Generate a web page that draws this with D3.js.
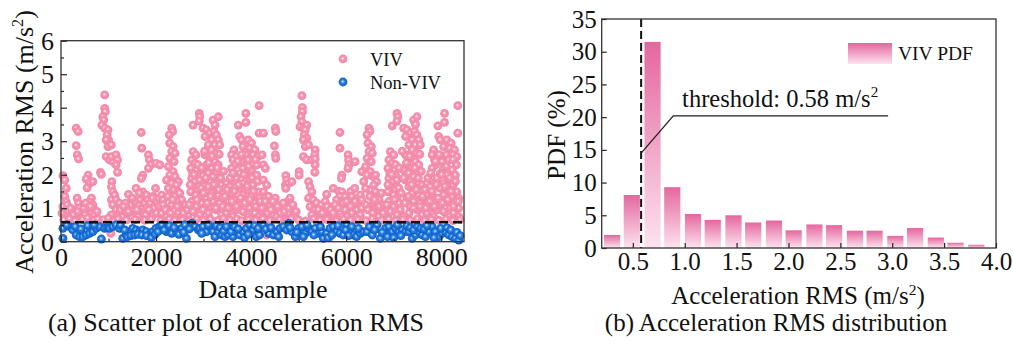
<!DOCTYPE html>
<html>
<head>
<meta charset="utf-8">
<script src="https://cdn.jsdelivr.net/npm/d3@7"></script>
<style>
  body { margin: 0; background: #fff; }
  svg { font-family: "Liberation Serif", "Times New Roman", serif; }
</style>
</head>
<body>
<svg id="chart" width="1013" height="345"></svg>
<script>
// ---- data ----
// (a) scatter: [data sample, acceleration RMS]
const vivPoints = [
  [40,1.97],[80,1.84],[110,1.59],[80,1.35],[110,1.2],[40,1.05],[150,0.9],[80,0.75],[220,0.8],[250,0.95],
  [320,3.39],[360,3.29],[320,2.87],[340,2.59],[370,2.47],[340,1.3],[370,1.15],[390,1.0],[430,0.85],
  [570,1.99],[530,1.87],[600,1.74],[550,1.61],[670,1.79],[640,1.3],[600,1.18],[670,1.1],[570,1.0],[640,0.85],[500,0.8],[710,0.95],[290,0.7],[430,0.7],
  [830,2.07],[850,2.01],
  [920,4.38],[920,3.98],[930,3.88],[880,3.73],[900,3.63],[860,3.48],[920,3.39],[990,3.34],[970,3.19],[1000,3.04],[950,3.04],[990,2.84],[1060,2.89],[950,2.54],[1020,2.44],[1090,2.39],
  [1060,2.54],[1160,2.59],[1190,2.44],[1160,2.29],[1190,2.07],[1070,1.79],[1060,1.64],[1090,1.49],[1130,1.39],[1060,1.25],[1160,1.25],[1090,1.1],[1230,1.15],[1160,0.95],[1060,0.8],[1230,0.85],[1300,0.75],[1420,1.41],[1580,1.59],
  [1690,3.26],[1700,2.79],[1720,1.99],[1690,1.89],[1720,1.49],[1690,1.35],[1660,1.25],[1620,1.1],[1760,1.15],[1510,0.95],[1580,0.85],[1690,0.7],[1800,1.39],[1830,1.25],
  [1840,2.59],[1860,2.44],[1890,2.29],[1840,2.19],[2000,2.34],[1990,1.59],[1940,1.35],[2000,1.2],[1900,1.05],[2040,0.95],[1940,0.8],[1830,0.7],
  [1350,0.9],[1400,1.0],[1450,0.8],[1480,1.1],[1550,1.2],[1620,0.75],[1750,0.9],[1800,1.0],[1880,1.15],[1950,1.0],[2060,1.3],[1480,0.7],[1360,1.15],
  [20,0.85],[130,1.1],[200,1.0],[260,0.8],[350,0.9],[480,1.0],[520,1.15],[620,1.05],[700,0.8],[760,0.9],
  [1250,0.95],[1320,1.05],[1420,0.9],[1500,1.3],[1600,0.95],[1650,1.45],[1780,0.8],[1850,0.95],[1920,1.3],[2010,0.85],[2080,1.05],
  // 2000 - 4200
  [2120,1.39],[2150,1.25],[2190,1.0],[2120,0.85],[2220,0.75],[2080,2.29],
  [2330,3.39],[2350,3.29],[2280,3.19],[2290,2.94],[2360,2.84],[2330,2.69],[2400,2.64],[2290,2.49],[2380,2.39],[2260,2.24],[2360,2.09],[2290,1.99],[2400,1.94],[2220,1.84],[2330,1.74],[2470,1.79],[2430,1.69],[2360,1.54],[2470,1.49],[2260,1.59],[2400,1.35],[2540,1.25],[2430,1.2],[2330,1.1],[2500,1.0],[2470,0.85],[2610,0.9],[2540,0.75],[2680,0.8],
  [2150,1.1],[2200,0.95],[2250,1.35],[2310,0.85],[2350,1.25],[2450,1.05],[2500,1.45],[2580,0.85],[2620,1.1],[2660,0.95],
  [2780,3.48],[2910,3.83],[2920,3.73],[2910,3.6],[2780,2.69],[2840,2.59],[2750,2.44],[2820,2.34],[2730,2.19],[2850,2.14],[2770,2.04],[2870,1.99],[2750,1.89],[2820,1.79],[2920,1.84],[2780,1.64],[2890,1.54],[2730,1.49],[2840,1.39],[2920,1.3],[2750,1.2],[2960,1.15],[2850,1.05],[2990,0.95],[2780,0.9],[2920,0.8],
  [2990,3.39],[3060,3.34],[3130,3.24],[3030,3.14],[3200,3.63],[3240,3.48],[3310,3.73],[3220,3.29],[3270,3.19],[3170,3.04],[3310,3.04],[3100,2.89],[3240,2.89],[3340,2.89],[3170,2.74],[3270,2.64],[3030,2.59],[3130,2.49],[3240,2.39],[3060,2.29],[3310,2.29],[3170,2.19],[2990,2.14],[3270,2.09],[3100,2.04],[3200,1.94],[3030,1.84],[3130,1.79],[3310,1.74],[3100,1.64],[3240,1.59],[3170,1.44],[3310,1.39],[3060,1.3],[3200,1.2],[3340,1.15],[3130,1.05],[3270,0.95],[3100,0.85],[3380,0.8],
  [3330,2.61],[3380,1.69],[3480,1.74],[3450,1.59],[3550,1.64],[3660,1.79],[3480,1.39],[3590,1.44],[3410,1.3],[3520,1.2],[3660,1.25],[3450,1.05],[3590,1.0],[3690,0.95],[3480,0.85],[3620,0.75],[3730,3.48],
  [3890,3.83],[3890,3.56],[4170,4.06],[4170,3.24],[3760,3.14],[3800,3.04],[3940,3.04],[4010,2.94],[3830,2.84],[3970,2.79],[4080,2.74],[3640,2.74],[3590,2.59],[3690,2.54],[3900,2.59],[4040,2.59],[4150,2.54],[3620,2.44],[3800,2.39],[3940,2.44],[4120,2.29],[3660,2.29],[3830,2.19],[4010,2.14],[3590,2.19],[3760,2.04],[3900,1.99],[4120,1.99],[3690,1.89],[3970,1.84],[3830,1.74],[4040,1.69],[3760,1.59],[3940,1.54],[4150,1.49],[3830,1.39],[4010,1.35],[4180,1.3],[3900,1.2],[4080,1.15],[3760,1.1],[3970,1.0],[4180,1.0],[3830,0.9],[4080,0.85],[3940,0.75],[4180,0.75],
  [2700,1.1],[2720,1.7],[2800,2.0],[2860,1.25],[2880,2.3],[2950,1.6],[2960,2.2],[3000,1.45],[3020,2.7],[3050,1.9],[3080,1.15],[3110,2.35],[3150,1.35],[3180,2.55],[3220,1.7],[3260,1.0],[3290,2.2],[3320,1.55],[3360,1.9],[3400,1.05],[3420,2.1],[3450,1.35],
  [3500,1.55],[3520,1.0],[3560,1.9],[3600,1.2],[3620,2.05],[3650,1.5],[3700,1.05],[3720,2.4],[3740,1.7],[3780,1.3],[3800,2.6],[3850,2.0],[3870,1.15],[3920,1.65],[3950,2.25],[3980,1.25],[4020,1.9],[4050,1.5],[4090,2.45],[4100,1.05],[4140,1.8],[4200,1.2],
  // 4200 - 6400
  [4260,3.24],[4230,2.59],[4260,2.29],[4300,2.19],[4260,1.84],[4330,1.69],[4260,1.49],[4370,1.35],[4300,1.2],[4400,1.05],[4330,0.9],[4440,0.8],[4260,0.75],
  [4510,3.39],[4520,3.29],[4490,2.86],[4510,2.59],[4520,2.49],[4510,1.3],[4520,1.15],[4470,1.0],[4580,0.9],[4540,0.75],
  [4730,1.97],[4750,1.84],[4720,1.69],[4790,1.74],[4860,1.79],[4730,1.59],[4820,1.3],[4750,1.18],[4840,1.12],[4720,1.0],[4790,0.85],[4890,0.95],[4650,0.75],[4930,0.75],
  [4230,1.0],[4350,0.85],[4420,0.95],[4460,1.2],[4560,1.05],[4620,0.85],[4680,1.15],[4700,0.9],[4800,1.0],[4880,1.1],[4950,0.9],
  [5010,2.09],[5010,1.99],[5070,4.36],[5080,4.0],[5080,3.88],[5050,3.73],[5070,3.58],[5030,3.43],[5100,3.39],[5170,3.48],[5140,3.34],[5120,3.19],[5170,3.09],[5100,3.04],[5140,2.84],[5210,2.89],[5100,2.54],[5170,2.44],[5280,2.44],
  [5350,2.74],[5340,2.59],[5350,2.47],[5350,2.29],[5340,2.07],[5210,1.79],[5240,1.64],[5280,1.49],[5210,1.3],[5310,1.25],[5380,1.15],[5240,1.05],[5350,0.95],[5450,0.85],[5280,0.8],
  [5590,1.41],[5730,1.59],[5520,1.0],[5630,0.9],[5700,0.75],[5560,0.7],[5480,1.1],[5560,1.2],[5650,1.05],
  [5420,0.95],[5500,0.85],[5600,1.05],[5680,0.95],[5760,0.8],[5850,1.5],[5950,1.05],[6050,0.95],[6100,1.5],[6150,1.05],[6250,1.15],[6280,0.95],
  [5870,3.26],[5870,2.79],[5910,1.99],[5900,1.89],[5910,1.49],[5870,1.35],[5800,1.25],[5770,1.1],[5940,1.15],[5840,1.0],[5730,0.85],[5980,0.95],[5910,0.75],[5980,1.35],[6010,1.2],
  [6040,2.59],[6050,2.44],[6060,2.29],[6040,2.19],[6190,2.39],[6180,1.59],[6120,1.35],[6190,1.2],[6090,1.05],[6230,0.95],[6120,0.85],[6010,0.75],[6330,2.09],[6370,1.79],[6300,1.39],[6330,1.25],[6330,1.0],[6300,0.8],
  // 6400 - 8500
  [6480,3.39],[6500,3.29],[6440,3.19],[6460,2.94],[6530,2.84],[6480,2.69],[6550,2.64],[6440,2.49],[6530,2.39],[6410,2.24],[6510,2.09],[6440,1.99],[6570,1.94],[6620,1.99],[6640,1.79],[6580,1.69],[6510,1.54],[6620,1.49],[6410,1.59],[6550,1.35],[6690,1.25],[6580,1.15],[6480,1.05],[6650,1.0],[6620,0.85],[6760,0.9],[6690,0.75],[6830,0.8],
  [6420,1.1],[6460,0.95],[6500,1.35],[6560,0.85],[6600,1.25],[6700,1.05],[6740,1.45],[6780,0.85],[6800,1.1],
  [6970,3.46],[7070,3.83],[7090,3.73],[7070,3.6],[6930,2.69],[7000,2.59],[6900,2.44],[6970,2.34],[6880,2.19],[7020,2.14],[6920,2.04],[7040,1.99],[6900,1.89],[6990,1.79],[7070,1.84],[6930,1.64],[7040,1.54],[6880,1.49],[7000,1.39],[7070,1.3],[6900,1.2],[7110,1.15],[7000,1.05],[7140,0.95],[6930,0.9],[7070,0.8],
  [7210,3.39],[7280,3.34],[7350,3.24],[7250,3.14],[7420,3.63],[7460,3.5],[7490,3.73],[7440,3.29],[7490,3.19],[7390,3.04],[7530,3.04],[7320,2.89],[7460,2.89],[7560,2.89],[7390,2.74],[7490,2.64],[7250,2.59],[7350,2.49],[7460,2.39],[7280,2.29],[7530,2.29],[7390,2.19],[7210,2.14],[7490,2.09],[7320,2.04],[7420,1.94],[7250,1.84],[7350,1.79],[7530,1.74],[7320,1.64],[7460,1.59],[7390,1.44],[7530,1.39],[7280,1.3],[7420,1.2],[7560,1.15],[7350,1.05],[7490,0.95],[7320,0.85],[7600,0.8],[7210,0.75],
  [7550,2.61],[7600,1.69],[7700,1.74],[7670,1.59],[7770,1.64],[7880,1.79],[7700,1.39],[7810,1.44],[7630,1.3],[7740,1.2],[7880,1.25],[7670,1.05],[7810,1.0],[7910,0.95],[7700,0.85],[7840,0.75],
  [7930,3.46],[8070,3.83],[8070,3.56],[8350,4.06],[8350,3.24],[7950,3.14],[7980,3.04],[8120,3.04],[8210,2.94],[8050,2.84],[8180,2.79],[8280,2.74],[7840,2.74],[7810,2.59],[7910,2.54],[8110,2.59],[8250,2.59],[8330,2.54],[7860,2.44],[8020,2.39],[8160,2.44],[8320,2.29],[7880,2.29],[8050,2.19],[8230,2.14],[7810,2.19],[7980,2.04],[8120,1.99],[8300,1.99],[7910,1.89],[8180,1.84],[8050,1.74],[8250,1.69],[7980,1.59],[8160,1.54],[8330,1.49],[8050,1.39],[8230,1.35],[8370,1.3],[8120,1.2],[8300,1.15],[7980,1.1],[8190,1.0],[8370,1.0],[8050,0.9],[8260,0.85],[8160,0.75],[8370,0.75],
  [6860,1.1],[6880,1.7],[6960,2.0],[7020,1.25],[7040,2.3],[7110,1.6],[7120,2.2],[7160,1.45],[7180,2.7],[7210,1.9],[7240,1.15],[7270,2.35],[7310,1.35],[7340,2.55],[7380,1.7],[7420,1.0],[7450,2.2],[7480,1.55],[7520,1.9],[7560,1.05],[7580,2.1],[7610,1.35],
  [7660,1.55],[7680,1.0],[7720,1.9],[7760,1.2],[7780,2.05],[7810,1.5],[7860,1.05],[7880,2.4],[7900,1.7],[7940,1.3],[7960,2.6],[8010,2.0],[8030,1.15],[8080,1.65],[8110,2.25],[8140,1.25],[8180,1.9],[8210,1.5],[8250,2.45],[8260,1.05],[8300,1.8],[8360,1.2],
  // dense band just above the threshold
  [60,0.65],[180,0.68],[300,0.62],[460,0.66],[560,0.7],[700,0.64],[780,0.68],[900,0.66],[1000,0.7],[1120,0.63],[1200,0.68],[1380,0.65],[1560,0.66],[1760,0.64],[1900,0.68],[2100,0.63],
  [2280,0.67],[2400,0.64],[2560,0.66],[2700,0.63],[2860,0.68],[3000,0.64],[3150,0.67],[3300,0.63],[3420,0.69],[3560,0.64],[3700,0.68],[3800,0.63],[3950,0.66],[4100,0.64],[4250,0.68],
  [4400,0.63],[4600,0.66],[4750,0.63],[4850,0.68],[5000,0.65],[5150,0.62],[5320,0.68],[5450,0.64],[5600,0.66],[5800,0.63],[5950,0.67],[6100,0.64],[6250,0.66],[6420,0.63],
  [6550,0.68],[6750,0.64],[6900,0.67],[7050,0.63],[7200,0.66],[7350,0.64],[7500,0.68],[7650,0.63],[7800,0.66],[7950,0.64],[8100,0.67],[8250,0.63],[8400,0.66],
  [1050,0.25],[2650,0.35],[4330,0.2],[5650,0.12],[6900,0.3],[8250,0.15]
];
const nonVivPoints = [
  [40,0.40],[40,0.10],[180,0.45],[120,0.5],[250,0.35],[320,0.2],[390,0.15],[460,0.15],[530,0.2],[600,0.25],[670,0.3],[740,0.4],[810,0.45],[850,0.08],[920,0.4],[980,0.42],[1020,0.4],[1090,0.45],[1160,0.5],[1230,0.4],
  [1300,0.1],[1370,0.2],[1440,0.3],[1510,0.4],[1580,0.35],[1650,0.3],[1720,0.35],[1790,0.3],[1860,0.2],[1930,0.3],[2000,0.4],[2070,0.45],
  [300,0.45],[420,0.38],[560,0.48],[700,0.5],[1250,0.5],[1340,0.35],[1400,0.15],[1470,0.18],[1550,0.2],[1620,0.22],[1700,0.2],[1800,0.18],[1900,0.12],[1980,0.22],[2040,0.3],
  [2120,0.5],[2220,0.3],[2330,0.25],[2430,0.3],[2540,0.4],[2610,0.5],[2640,0.1],[2750,0.55],[2820,0.45],[2890,0.35],[2920,0.4],[2990,0.45],[3060,0.3],[3130,0.45],[3200,0.3],[3240,0.15],[3310,0.3],[3380,0.2],
  [3450,0.15],[3520,0.2],[3550,0.4],[3620,0.15],[3690,0.3],[3760,0.2],[3830,0.3],[3900,0.4],[3970,0.5],[4040,0.35],[4110,0.15],[4180,0.2],
  [2170,0.35],[2280,0.48],[2380,0.42],[2480,0.22],[2580,0.28],[2700,0.38],[2960,0.25],[3100,0.5],[3270,0.48],[3350,0.42],[3420,0.32],[3480,0.45],[3580,0.3],[3650,0.45],[3730,0.38],[3860,0.12],[3940,0.22],[4080,0.48],[4150,0.4],
  [4260,0.5],[4370,0.25],[4470,0.2],[4540,0.3],[4610,0.4],[4680,0.45],[4750,0.35],[4790,0.55],[4860,0.3],[4930,0.15],[5000,0.4],[5070,0.45],[5140,0.25],[5210,0.4],[5280,0.3],[5350,0.4],[5420,0.25],[5490,0.3],
  [5520,0.1],[5590,0.25],[5660,0.4],[5730,0.45],[5800,0.3],[5870,0.25],[5940,0.2],[6010,0.5],[6080,0.3],[6150,0.2],[6220,0.15],[6300,0.25],[6360,0.3],
  [4310,0.38],[4420,0.42],[4580,0.15],[4820,0.42],[4960,0.28],[5100,0.15],[5180,0.5],[5320,0.2],[5460,0.45],[5620,0.12],[5700,0.2],[5830,0.48],[5990,0.35],[6050,0.18],[6120,0.45],[6260,0.4],
  [6440,0.3],[6550,0.2],[6650,0.5],[6720,0.1],[6830,0.4],[6900,0.45],[6970,0.3],[7040,0.4],[7110,0.3],[7180,0.35],[7250,0.3],[7320,0.3],[7390,0.1],[7460,0.2],[7530,0.3],[7600,0.2],[7670,0.15],[7740,0.3],
  [7810,0.45],[7880,0.3],[7950,0.15],[8020,0.25],[8090,0.3],[8160,0.2],[8230,0.15],[8300,0.1],[8370,0.05],
  [6490,0.45],[6600,0.35],[6760,0.28],[6870,0.15],[7000,0.12],[7080,0.5],[7150,0.18],[7280,0.48],[7350,0.42],[7420,0.35],[7500,0.45],[7570,0.4],[7640,0.38],[7700,0.48],[7850,0.12],[7990,0.4],[8120,0.42],[8200,0.35],[8330,0.28],[8400,0.18]
];
const threshold = 0.58;
const scatterXTicks = [0, 2000, 4000, 6000, 8000];
const scatterXMinor = [1000, 3000, 5000, 7000];
const scatterYTicks = [0, 1, 2, 3, 4, 5, 6];
const scatterYMinor = [0.5, 1.5, 2.5, 3.5, 4.5, 5.5];

// (b) histogram of VIV acceleration RMS
const binCenters = [0.30, 0.49, 0.69, 0.88, 1.08, 1.27, 1.47, 1.66, 1.86, 2.05, 2.25, 2.44, 2.64, 2.83, 3.03, 3.22, 3.42, 3.61, 3.81];
const pdfValues  = [2.0, 8.1, 31.5, 9.3, 5.2, 4.3, 5.0, 3.9, 4.2, 2.7, 3.6, 3.5, 2.65, 2.65, 1.85, 3.05, 1.6, 0.8, 0.5];
const binWidth = 0.195;
const pdfXTicks = [0.5, 1.0, 1.5, 2.0, 2.5, 3.0, 3.5, 4.0];
const pdfYTicks = [0, 5, 10, 15, 20, 25, 30, 35];
const leaderPoints = [[0.58, 14.5], [0.89, 20.2], [2.96, 20.2]];

const svg = d3.select('#chart');
const defs = svg.append('defs');

function sphere(id, stops) {
  const g = defs.append('radialGradient').attr('id', id)
    .attr('cx', '50%').attr('cy', '50%').attr('r', '50%').attr('fx', '45%').attr('fy', '42%');
  stops.forEach(s => g.append('stop').attr('offset', s[0]).attr('stop-color', s[1]));
}
sphere('gPink', [['0%', '#ffffff'], ['12%', '#fcdbe5'], ['38%', '#f796b2'], ['100%', '#f086a6']]);
sphere('gBlue', [['0%', '#e6f2ff'], ['16%', '#8cc2f6'], ['45%', '#2a80e2'], ['100%', '#0b5cc5']]);

const barGrad = defs.append('linearGradient').attr('id', 'gBar')
  .attr('x1', 0).attr('y1', 0).attr('x2', 0).attr('y2', 1);
barGrad.append('stop').attr('offset', '0%').attr('stop-color', '#e4679e');
barGrad.append('stop').attr('offset', '100%').attr('stop-color', '#fde3f0');

function superLabel(sel, before, sup, after, size) {
  sel.append('tspan').text(before);
  sel.append('tspan').attr('dy', -size * 0.38).attr('font-size', size * 0.62).text(sup);
  if (after) sel.append('tspan').attr('dy', size * 0.38).text(after);
}

// ================= (a) scatter =================
const x = d3.scaleLinear().domain([0, 8480]).range([61, 464]);
const y = d3.scaleLinear().domain([0, 6]).range([241.7, 40.7]);
const A = svg.append('g');
const FS = 26;

A.append('g').selectAll('circle').data(vivPoints).join('circle')
  .attr('cx', d => x(d[0])).attr('cy', d => y(d[1])).attr('r', 4.4)
  .attr('fill', 'url(#gPink)');
A.append('g').selectAll('circle').data(nonVivPoints).join('circle')
  .attr('cx', d => x(d[0])).attr('cy', d => y(d[1])).attr('r', 4.4)
  .attr('fill', 'url(#gBlue)');

A.append('line')
  .attr('x1', x.range()[0]).attr('x2', x.range()[1])
  .attr('y1', y(threshold)).attr('y2', y(threshold))
  .attr('stroke', '#111').attr('stroke-width', 2.4).attr('stroke-dasharray', '9,5');

function styleAxis(g, fs) {
  g.select('.domain').remove();
  g.selectAll('line').attr('stroke', '#222').attr('stroke-width', 1.2);
  g.selectAll('text').attr('font-size', fs).attr('fill', '#111')
    .attr('font-family', '"Liberation Serif", "Times New Roman", serif');
}

A.append('g').attr('transform', `translate(0,${y(0)})`)
  .call(d3.axisBottom(x).tickValues(scatterXMinor).tickSize(-3).tickFormat(''))
  .call(g => styleAxis(g, FS));
A.append('g').attr('transform', `translate(0,${y(0)})`)
  .call(d3.axisBottom(x).tickValues(scatterXTicks).tickSize(-6).tickPadding(6).tickFormat(d3.format('d')))
  .call(g => styleAxis(g, FS));
A.append('g').attr('transform', `translate(${x(0)},0)`)
  .call(d3.axisLeft(y).tickValues(scatterYMinor).tickSize(-3).tickFormat(''))
  .call(g => styleAxis(g, FS));
A.append('g').attr('transform', `translate(${x(0)},0)`)
  .call(d3.axisLeft(y).tickValues(scatterYTicks).tickSize(-6).tickPadding(7).tickFormat(d3.format('d')))
  .call(g => styleAxis(g, FS));

A.append('rect')
  .attr('x', x.range()[0]).attr('y', y(6))
  .attr('width', x.range()[1] - x.range()[0]).attr('height', y(0) - y(6))
  .attr('fill', 'none').attr('stroke', '#333').attr('stroke-width', 1.3);

// legend
const legA = A.append('g');
[['VIV', 'url(#gPink)', 59], ['Non-VIV', 'url(#gBlue)', 82]].forEach(([t, f, yy]) => {
  legA.append('circle').attr('cx', 343).attr('cy', yy).attr('r', 4.4).attr('fill', f);
  legA.append('text').attr('x', 370).attr('y', yy + 6.5).attr('font-size', 18.5).attr('fill', '#111').text(t);
});

A.append('text').attr('transform', 'translate(33,142) rotate(-90)')
  .attr('text-anchor', 'middle').attr('font-size', FS).attr('fill', '#111')
  .call(s => superLabel(s, 'Acceleration RMS (m/s', '2', ')', FS));
A.append('text').attr('x', 263).attr('y', 298).attr('text-anchor', 'middle')
  .attr('font-size', FS).attr('fill', '#111').text('Data sample');
A.append('text').attr('x', 236).attr('y', 331).attr('text-anchor', 'middle')
  .attr('font-size', FS).attr('fill', '#111').text('(a) Scatter plot of acceleration RMS');

// ================= (b) histogram =================
const xb = d3.scaleLinear().domain([0.2, 4.0]).range([601.7, 996]);
const yb = d3.scaleLinear().domain([0, 35]).range([248, 19]);
const B = svg.append('g');
const FSB = 25;

B.append('g').selectAll('rect').data(binCenters).join('rect')
  .attr('x', (d) => xb(d - binWidth * 0.4))
  .attr('width', xb(binWidth * 0.8) - xb(0))
  .attr('y', (d, i) => yb(pdfValues[i]))
  .attr('height', (d, i) => yb(0) - yb(pdfValues[i]))
  .attr('fill', 'url(#gBar)');

B.append('line')
  .attr('x1', xb(threshold)).attr('x2', xb(threshold))
  .attr('y1', yb(35)).attr('y2', yb(0))
  .attr('stroke', '#111').attr('stroke-width', 2).attr('stroke-dasharray', '8,4');

B.append('path')
  .attr('d', d3.line().x(d => xb(d[0])).y(d => yb(d[1]))(leaderPoints))
  .attr('fill', 'none').attr('stroke', '#222').attr('stroke-width', 1.3);
B.append('text').attr('x', xb(0.975)).attr('y', yb(21.6))
  .attr('font-size', 24.5).attr('fill', '#111')
  .call(s => superLabel(s, 'threshold: 0.58 m/s', '2', null, 24.5));

B.append('g').attr('transform', `translate(0,${yb(0)})`)
  .call(d3.axisBottom(xb).tickValues(pdfXTicks).tickSize(-5).tickPadding(4).tickFormat(d3.format('.1f')))
  .call(g => styleAxis(g, FSB));
B.append('g').attr('transform', `translate(${xb(0.2)},0)`)
  .call(d3.axisLeft(yb).tickValues(pdfYTicks).tickSize(-5).tickPadding(5).tickFormat(d3.format('d')))
  .call(g => styleAxis(g, FSB));

B.append('rect')
  .attr('x', xb(0.2)).attr('y', yb(35))
  .attr('width', xb(4.0) - xb(0.2)).attr('height', yb(0) - yb(35))
  .attr('fill', 'none').attr('stroke', '#333').attr('stroke-width', 1.3);

// legend
B.append('rect').attr('x', 848).attr('y', 43).attr('width', 44).attr('height', 21).attr('fill', 'url(#gBar)');
B.append('text').attr('x', 898).attr('y', 60).attr('font-size', 19.5).attr('fill', '#111').text('VIV PDF');

B.append('text').attr('transform', 'translate(565,135) rotate(-90)')
  .attr('text-anchor', 'middle').attr('font-size', FSB).attr('fill', '#111').text('PDF (%)');
B.append('text').attr('x', 798).attr('y', 304).attr('text-anchor', 'middle')
  .attr('font-size', FSB).attr('fill', '#111')
  .call(s => superLabel(s, 'Acceleration RMS (m/s', '2', ')', FSB));
B.append('text').attr('x', 776).attr('y', 331).attr('text-anchor', 'middle')
  .attr('font-size', FSB).attr('fill', '#111').text('(b) Acceleration RMS distribution');
</script>
</body>
</html>
